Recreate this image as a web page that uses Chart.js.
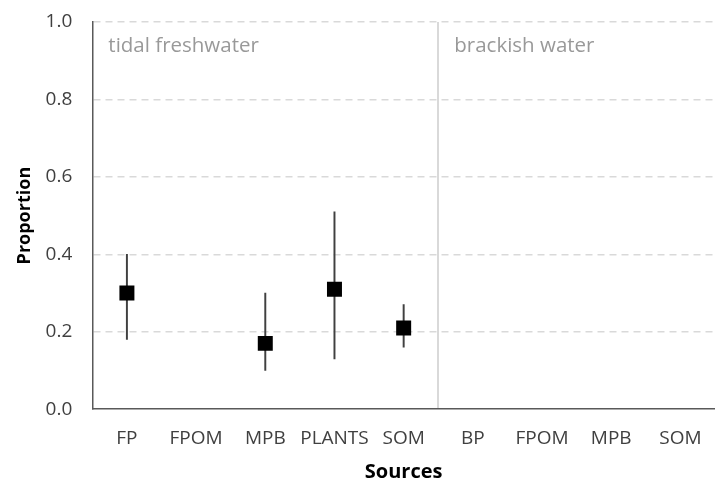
<!DOCTYPE html>
<html>
<head>
<meta charset="utf-8">
<script src="https://cdn.jsdelivr.net/npm/chart.js@4"></script>
<style>
    html, body { margin: 0; padding: 0; background: #fff; }
    #wrap { width: 715px; height: 484px; }
</style>
</head>
<body>
<div id="wrap"><canvas id="srcChart"></canvas></div>
<script>
// source contributions, tidal freshwater (first 5) and brackish water (last 4)
const categories = ['FP', 'FPOM', 'MPB', 'PLANTS', 'SOM', 'BP', 'FPOM', 'MPB', 'SOM'];
const means = [0.30, null, 0.17, 0.31, 0.21, null, null, null, null];
const lower = [0.18, null, 0.10, 0.13, 0.16, null, null, null, null];
const upper = [0.40, null, 0.30, 0.51, 0.27, null, null, null, null];
const yTicks = [0, 0.2, 0.4, 0.6, 0.8, 1.0];
const zones = [
    { label: 'tidal freshwater', first: 0 },
    { label: 'brackish water', first: 5 }
];

const FONT = '"Open Sans", "Noto Sans", sans-serif';
// plot runs a few pixels past the right edge of the canvas
const RIGHT_BLEED = -4;

// zone names in the upper left of each block
const zoneLabels = {
    id: 'zoneLabels',
    afterDatasetsDraw(chart) {
        const { ctx, scales: { x, y } } = chart;
        ctx.save();
        ctx.font = '20.5px ' + FONT;
        ctx.fillStyle = '#999999';
        ctx.textBaseline = 'alphabetic';
        zones.forEach(z => {
            const edge = z.first === 0
                ? x.left
                : (x.getPixelForValue(z.first - 1) + x.getPixelForValue(z.first)) / 2;
            ctx.fillText(z.label, edge + 16, y.getPixelForValue(1.0) + 30);
        });
        ctx.restore();
    }
};

new Chart(document.getElementById('srcChart'), {
    type: 'bar',
    data: {
        labels: categories,
        datasets: [
            {
                type: 'line',
                label: 'Mean',
                data: means,
                showLine: false,
                pointStyle: 'rect',
                pointRadius: 10.6,
                pointHoverRadius: 10.6,
                pointBackgroundColor: '#000',
                pointBorderWidth: 0,
                order: 0
            },
            {
                label: 'Range',
                data: categories.map((c, i) => lower[i] == null ? null : [lower[i], upper[i]]),
                backgroundColor: '#404040',
                barThickness: 1.3,
                grouped: false,
                order: 1
            }
        ]
    },
    options: {
        responsive: true,
        maintainAspectRatio: false,
        animation: false,
        layout: { autoPadding: false, padding: { top: 0, left: 0, right: RIGHT_BLEED, bottom: 0 } },
        plugins: {
            legend: { display: false },
            tooltip: { enabled: false }
        },
        scales: {
            x: {
                offset: true,
                afterFit: axis => { axis.paddingRight = RIGHT_BLEED; },
                grid: {
                    offset: true,
                    drawTicks: false,
                    lineWidth: 2,
                    color: ctx => ctx.index === zones[1].first ? '#d9d9d9' : 'transparent'
                },
                border: { color: '#595959', width: 1.5 },
                ticks: {
                    padding: 18,
                    maxRotation: 0,
                    minRotation: 0,
                    autoSkip: false,
                    color: '#404040',
                    font: { family: FONT, size: 19 }
                },
                title: {
                    display: true,
                    text: 'Sources',
                    color: '#000',
                    padding: { top: -8, bottom: 0 },
                    font: { family: FONT, size: 20, weight: 'bold' }
                }
            },
            y: {
                min: 0,
                max: 1,
                afterBuildTicks: axis => { axis.ticks = yTicks.map(v => ({ value: v })); },
                // keep the top tick label overflow small so the plot starts near the top
                afterFit: axis => { axis.paddingTop = 22; axis.paddingRight = RIGHT_BLEED; },
                grid: {
                    drawTicks: false,
                    lineWidth: 1.5,
                    color: ctx => ctx.tick && ctx.tick.value === 0 ? 'transparent' : '#d9d9d9'
                },
                border: { color: '#595959', width: 1.5, dash: [7, 5] },
                ticks: {
                    padding: 20,
                    color: '#404040',
                    font: { family: FONT, size: 19 },
                    callback: v => v.toFixed(1)
                },
                title: {
                    display: true,
                    text: 'Proportion',
                    color: '#000',
                    padding: { top: 14, bottom: -10 },
                    font: { family: FONT, size: 18, weight: 'bold' }
                }
            }
        }
    },
    plugins: [zoneLabels]
});
</script>
</body>
</html>
